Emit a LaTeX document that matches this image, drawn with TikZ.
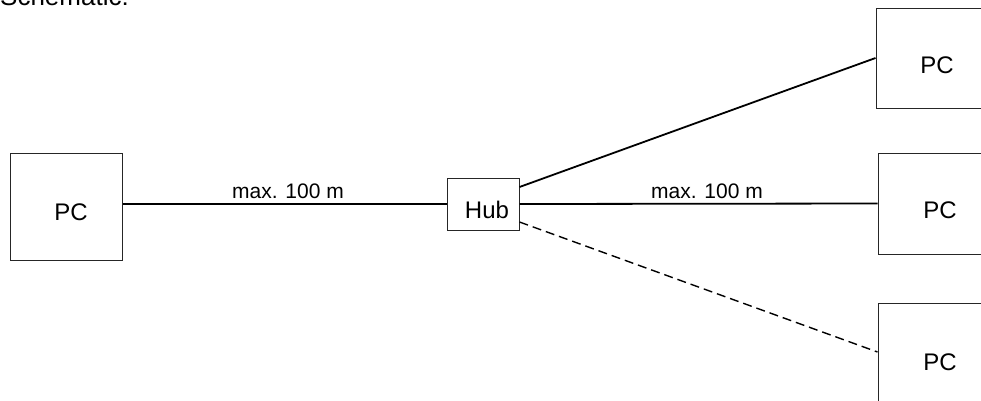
\documentclass[tikz,border=0pt]{standalone}
\usepackage{fontspec}
\setmainfont{Liberation Sans}
\begin{document}
\begin{tikzpicture}[x=1pt,y=-1pt,
  box/.style={draw=black!85,line width=1pt,inner sep=0pt,rectangle},
  big/.style={font=\fontsize{24}{28}\selectfont,inner sep=0pt},
  lbl/.style={font=\fontsize{21}{24}\selectfont,inner sep=0pt,anchor=base},
  cable/.style={line width=1.8pt},
  cabledash/.style={line width=1.4pt,dash pattern=on 9pt off 5pt}]
\useasboundingbox (0,0) rectangle (981,400);
\clip (0,0) rectangle (981,400);
% title, partly cut off at the top edge
\node[inner sep=0pt,font=\fontsize{26}{30}\selectfont,anchor=base west] (title) at (0,5) {Schematic:};
% boxes
\node[box,minimum width=112pt,minimum height=107pt] (pcL) at (66,206.5) {};
\node[box,minimum width=72pt,minimum height=52pt] (hub) at (483,204) {};
\node[box,minimum width=120pt,minimum height=100pt] (pcA) at (936,58) {};
\node[box,minimum width=120pt,minimum height=101pt] (pcB) at (938,203.5) {};
\node[box,minimum width=120pt,minimum height=98pt] (pcC) at (938,352) {};
% box texts
\node[big] (tL) at (71,212) {PC};
\node[big] (tH) at (487,210) {Hub};
\node[big] (tA) at (937,65.5) {PC};
\node[big] (tB) at (940,210) {PC};
\node[big] (tC) at (940,362) {PC};
% cables
\draw[cable] (hub.west -| pcL.east) -- (hub.west);
\draw[cable] ([yshift=17pt]hub.east) -- (pcA.west);
\draw[cable] (hub.east) -- (pcB.west);
\draw[cabledash] ([yshift=-18pt]hub.east) -- (pcC.west);
% length labels
\node[lbl] (m1) at (288,198) {max. 100 m};
\node[lbl] (m2) at (707,198) {max. 100 m};
\end{tikzpicture}
\end{document}
